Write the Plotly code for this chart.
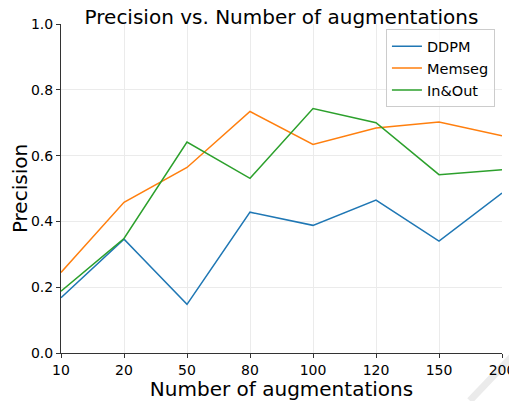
import plotly.graph_objects as go

categories = ["10", "20", "50", "80", "100", "120", "150", "200"]
ddpm = [0.168, 0.346, 0.148, 0.428, 0.388, 0.465, 0.340, 0.486]
memseg = [0.245, 0.458, 0.564, 0.734, 0.634, 0.684, 0.702, 0.660]
inout = [0.188, 0.348, 0.641, 0.531, 0.743, 0.700, 0.542, 0.557]
y_ticks = [0.0, 0.2, 0.4, 0.6, 0.8, 1.0]

fig = go.Figure()
for name, vals, col in [("DDPM", ddpm, "#1f77b4"), ("Memseg", memseg, "#ff7f0e"), ("In&Out", inout, "#2ca02c")]:
    fig.add_trace(go.Scatter(x=list(range(len(categories))), y=vals, mode="lines", name=name,
                             line=dict(color=col, width=1.5)))

# faint diagonal watermark stroke in the bottom-right corner
fig.add_shape(type="line", xref="paper", yref="paper", x0=0.927, y0=-0.145, x1=1.03, y1=0.0,
              line=dict(color="#ebebeb", width=7), layer="below")

# page body adds an 8px offset, so the figure is 8px smaller and margins shifted
fig.update_layout(
    width=509, height=393,
    margin=dict(l=53, r=15, t=16, b=48, autoexpand=False),
    paper_bgcolor="white", plot_bgcolor="white",
    font=dict(family="DejaVu Sans", color="black"),
    title=dict(text="Precision vs. Number of augmentations", xref="paper", x=0.5, xanchor="center",
               yref="container", y=0.976, yanchor="middle", font=dict(size=20), automargin=False),
    legend=dict(x=0.984, y=0.984, xanchor="right", yanchor="top", bgcolor="rgba(255,255,255,0.8)",
                bordercolor="#cccccc", borderwidth=1, font=dict(size=14.5), tracegroupgap=0),
    showlegend=True,
)
fig.update_xaxes(range=[0, len(categories) - 1], tickvals=list(range(len(categories))), ticktext=categories,
                 showgrid=True, gridcolor="#ebebeb", gridwidth=1, showline=True, linecolor="#333333",
                 linewidth=1, ticks="outside", ticklen=4, tickcolor="#333333", tickfont=dict(size=14),
                 title=dict(text="Number of augmentations", font=dict(size=20), standoff=4),
                 zeroline=False, automargin=False)
fig.update_yaxes(range=[0, 1], tickvals=y_ticks, ticktext=[f"{v:.1f}" for v in y_ticks],
                 showgrid=True, gridcolor="#ebebeb", gridwidth=1, showline=True, linecolor="#333333",
                 linewidth=1, ticks="outside", ticklen=4, tickcolor="#333333", tickfont=dict(size=14),
                 title=dict(text="Precision", font=dict(size=20), standoff=8),
                 zeroline=False, automargin=False)

fig.write_html("out.html")
